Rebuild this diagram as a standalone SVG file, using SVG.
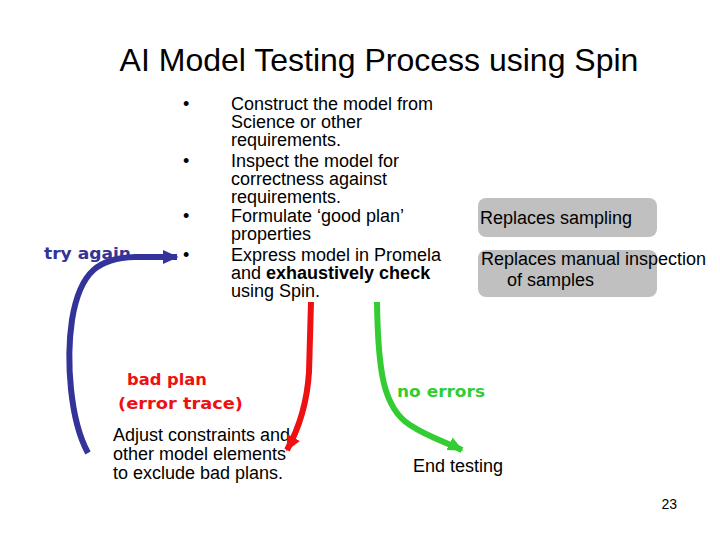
<svg xmlns="http://www.w3.org/2000/svg" width="720" height="540" viewBox="0 0 720 540">
<style>
.t{font-family:"Liberation Sans",Arial,sans-serif;fill:#000}
.b{font-size:18px}
.c{font-family:"DejaVu Sans",sans-serif;font-weight:bold;font-size:16px}
.box{fill:#c0c0c0}
.arr{fill:none;stroke-width:6;stroke-linecap:butt}
</style>
<defs>
<marker id="mb" viewBox="0 0 10 10" refX="9" refY="5" markerWidth="2.6" markerHeight="2.6" orient="auto" markerUnits="strokeWidth"><path d="M0,0.5L10,5L0,9.5z" fill="#333399"/></marker>
<marker id="mr" viewBox="0 0 10 10" refX="9" refY="5" markerWidth="2.6" markerHeight="2.6" orient="auto" markerUnits="strokeWidth"><path d="M0,0.5L10,5L0,9.5z" fill="#ee1111"/></marker>
<marker id="mg" viewBox="0 0 10 10" refX="9" refY="5" markerWidth="2.6" markerHeight="2.6" orient="auto" markerUnits="strokeWidth"><path d="M0,0.5L10,5L0,9.5z" fill="#33cc33"/></marker>
</defs>
<rect width="720" height="540" fill="#fff"/>
<text class="t" x="379" y="71" font-size="32" text-anchor="middle">AI Model Testing Process using Spin</text>
<g id="steps" class="t b">
<text x="183" y="110">•</text>
<text x="183" y="167">•</text>
<text x="183" y="222">•</text>
<text x="183" y="261">•</text>
<text x="231" y="110">Construct the model from</text>
<text x="231" y="128">Science or other</text>
<text x="231" y="146">requirements.</text>
<text x="231" y="167">Inspect the model for</text>
<text x="231" y="185">correctness against</text>
<text x="231" y="203">requirements.</text>
<text x="231" y="222">Formulate ‘good plan’</text>
<text x="231" y="240">properties</text>
<text x="231" y="261">Express model in Promela</text>
<text x="231" y="279">and <tspan font-weight="bold">exhaustively check</tspan></text>
<text x="231" y="297">using Spin.</text>
</g>
<g id="note1">
<rect class="box" x="478" y="198" width="179" height="39" rx="8"/>
<text class="t b" x="480" y="224">Replaces sampling</text>
</g>
<g id="note2">
<rect class="box" x="478" y="250" width="179" height="47" rx="8"/>
<text class="t b" x="481" y="265">Replaces manual inspection</text>
<text class="t b" x="507" y="286">of samples</text>
</g>
<g id="adjust" class="t b">
<text x="113" y="441">Adjust constraints and</text>
<text x="113" y="460">other model elements</text>
<text x="113" y="479">to exclude bad plans.</text>
</g>
<g id="end">
<text class="t b" x="413" y="472">End testing</text>
</g>
<g id="connectors">
<path class="arr" stroke="#333399" d="M88,453 C70,420 66,360 72,320 C80,270 100,258 135,257 L177,257" marker-end="url(#mb)"/>
<path class="arr" stroke="#ee1111" d="M311,302 L309,372 C307,405 298,430 287,450" marker-end="url(#mr)"/>
<path class="arr" stroke="#33cc33" d="M377,302 C378,370 383,408 410,425 C428,437 448,443 462,450" marker-end="url(#mg)"/>
<text class="c" x="44" y="259" fill="#333399" textLength="87" lengthAdjust="spacingAndGlyphs">try again</text>
<text class="c" x="127" y="385" fill="#ee1111" textLength="80" lengthAdjust="spacingAndGlyphs">bad plan</text>
<text class="c" x="118" y="409" fill="#ee1111" textLength="125" lengthAdjust="spacingAndGlyphs">(error trace)</text>
<text class="c" x="397" y="397" fill="#33cc33" textLength="88" lengthAdjust="spacingAndGlyphs">no errors</text>
</g>
<text class="t" x="677" y="509" font-size="14" text-anchor="end">23</text>
</svg>
